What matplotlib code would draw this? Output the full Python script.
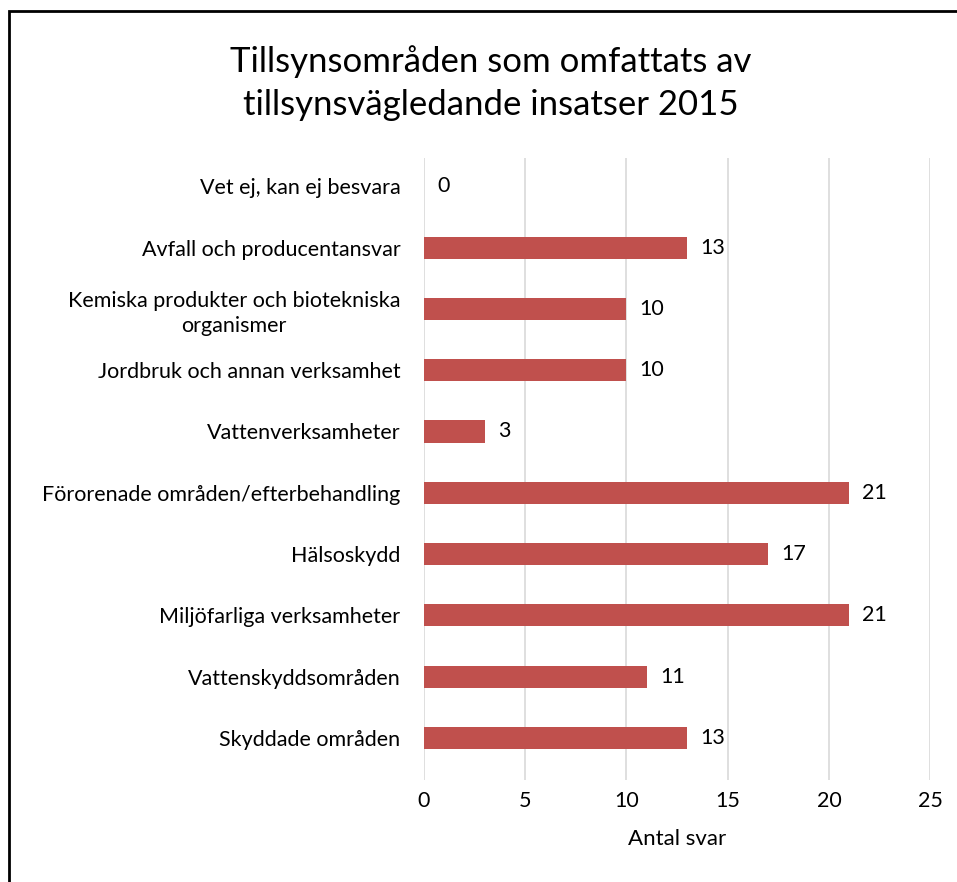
import matplotlib.pyplot as plt
from matplotlib.patches import Rectangle

# Kategorier (uppifran och ned som i originalet)
kategorier = [
    'Vet ej, kan ej besvara',
    'Avfall och producentansvar',
    'Kemiska produkter och biotekniska\norganismer',
    'Jordbruk och annan verksamhet',
    'Vattenverksamheter',
    'Förorenade områden/efterbehandling',
    'Hälsoskydd',
    'Miljöfarliga verksamheter',
    'Vattenskyddsområden',
    'Skyddade områden',
]
antal = [0, 13, 10, 10, 3, 21, 17, 21, 11, 13]
xticks = [0, 5, 10, 15, 20, 25]

plt.rcParams['font.family'] = ['Lato', 'DejaVu Sans']

fig = plt.figure(figsize=(9.57, 8.82), dpi=100)
ax = fig.add_axes([0.443, 0.1156, 0.529, 0.705])

# ramen runt diagrammet (bara vanster och topp syns)
fig.patches.append(Rectangle((0.0095, -0.05), 1.2, 1.037, transform=fig.transFigure,
                             fill=False, edgecolor='black', linewidth=2))

y = list(range(len(kategorier)))[::-1]
ax.barh(y, antal, height=0.36, color='#C0504D', zorder=3)
for yi, v in zip(y, antal):
    ax.annotate(str(v), (v, yi), xytext=(9.5, 0), textcoords='offset points',
                va='center', ha='left', fontsize=15.5)

ax.set_xlim(0, 25)
ax.set_ylim(-0.685, 9.457)
ax.set_xticks(xticks)
ax.set_yticks(y)
ax.set_yticklabels(kategorier)
for lab in ax.get_yticklabels():
    lab.set_multialignment('center')
    lab.set_linespacing(1.3)
ax.tick_params(axis='both', length=0, labelsize=15.5)
ax.tick_params(axis='y', pad=17)
ax.tick_params(axis='x', pad=8)
ax.grid(axis='x', color='#D9D9D9', linewidth=1.2, zorder=0)
for s in ax.spines.values():
    s.set_visible(False)
ax.set_xlabel('Antal svar', fontsize=16, labelpad=13)

fig.text(0.513, 0.906, 'Tillsynsområden som omfattats av\ntillsynsvägledande insatser 2015',
         ha='center', va='center', fontsize=25, linespacing=1.4)

fig.savefig('out.png', dpi=100)
